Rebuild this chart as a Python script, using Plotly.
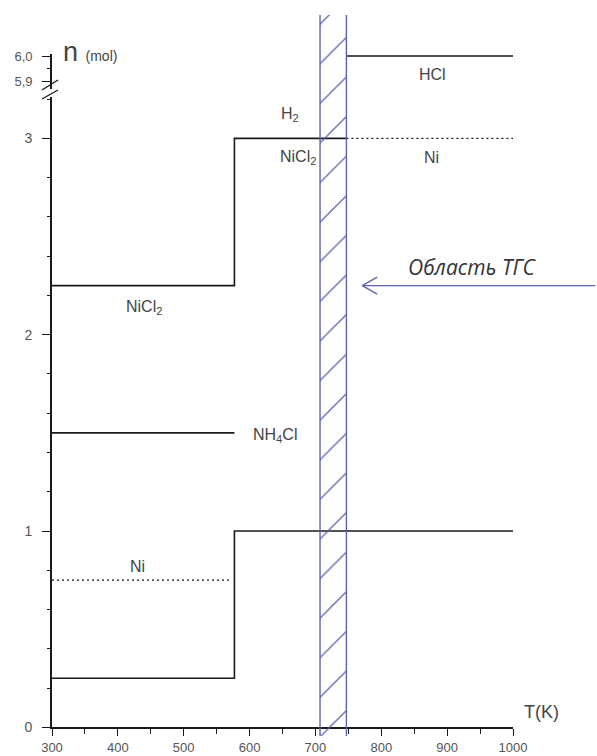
import plotly.graph_objects as go

# ---------------- data ----------------
T_min, T_max = 300, 1000
TGC_region = [707, 747]  # "Область ТГС" band

nicl2_T = [300, 577, 577, 747]
nicl2_n = [2.25, 2.25, 3.0, 3.0]
ni_high_T = [747, 1000]
ni_high_n = [3.0, 3.0]
hcl_T = [747, 1000]
hcl_n = [6.0, 6.0]
nh4cl_T = [300, 577]
nh4cl_n = [1.5, 1.5]
n2_T = [300, 577, 577, 1000]
n2_n = [0.25, 0.25, 1.0, 1.0]
ni_low_T = [300, 569]
ni_low_n = [0.75, 0.75]

arrow_target = [771, 2.25]   # (T, n) where the arrow points

x_ticks = [300, 400, 500, 600, 700, 800, 900, 1000]
y_ticks = [0, 1, 2, 3]
y2_ticks = [5.9, 6.0]
y2_ticktext = ["5,9", "6,0"]

# ---------------- layout constants ----------------
W, H = 597, 756
ML, MR, MT, MB = 52, 84, 15, 20
PH = H - MT - MB


def py2paper(py):
    return (H - MB - py) / PH


def px2paper(px):
    return (px - ML) / (W - ML - MR)


LINE = "#1a1a1a"
HATCH = "#5f62ad"
TXT = "#444444"
FONT = "Liberation Sans, Arial, sans-serif"

fig = go.Figure()

# hatched band (full height, own axis y3)
fig.add_trace(go.Bar(
    x=[(TGC_region[0] + TGC_region[1]) / 2], y=[1], base=[0],
    width=[TGC_region[1] - TGC_region[0]],
    xaxis="x", yaxis="y3",
    marker=dict(color="rgba(0,0,0,0)", line=dict(width=0),
                pattern=dict(shape="/", fgcolor=HATCH, bgcolor="rgba(0,0,0,0)",
                             size=28, solidity=0.045, fgopacity=1)),
    showlegend=False, hoverinfo="skip"))
fig.add_trace(go.Scatter(
    x=[TGC_region[0], TGC_region[0], None, TGC_region[1], TGC_region[1]],
    y=[0, 1, None, 0, 1], xaxis="x", yaxis="y3", mode="lines",
    line=dict(color=HATCH, width=1.4), showlegend=False, hoverinfo="skip"))


def solid(xs, ys, axis="y"):
    fig.add_trace(go.Scatter(x=xs, y=ys, xaxis="x", yaxis=axis, mode="lines",
                             line=dict(color=LINE, width=1.6), showlegend=False))


def dotted(xs, ys, axis="y"):
    fig.add_trace(go.Scatter(x=xs, y=ys, xaxis="x", yaxis=axis, mode="lines",
                             line=dict(color=LINE, width=1.4, dash="2px,3px"),
                             showlegend=False))


solid(nicl2_T, nicl2_n)
dotted(ni_high_T, ni_high_n)
solid(hcl_T, hcl_n, "y2")
solid(nh4cl_T, nh4cl_n)
solid(n2_T, n2_n)
dotted(ni_low_T, ni_low_n)

tickfont = dict(family=FONT, size=14, color="#555555")

fig.update_layout(
    width=W, height=H, margin=dict(l=ML, r=MR, t=MT, b=MB, autoexpand=False),
    paper_bgcolor="white", plot_bgcolor="rgba(0,0,0,0)",
    showlegend=False, barmode="overlay",
    xaxis=dict(range=[T_min, T_max], anchor="y", tickvals=x_ticks,
               automargin=False,
               ticks="outside", ticklen=7, tickwidth=1.3, tickcolor=LINE,
               showline=True, linecolor=LINE, linewidth=1.6, showgrid=False,
               zeroline=False, tickfont=dict(family=FONT, size=13, color="#555555"),
               ticklabelstandoff=0,
               minor=dict(dtick=50, ticks="outside", ticklen=5, tickwidth=1.3,
                          tickcolor=LINE, showgrid=False)),
    yaxis=dict(domain=[py2paper(727.3), py2paper(97)], range=[0, 3.211],
               automargin=False,
               anchor="x", tickvals=y_ticks, ticks="outside", ticklen=8,
               tickwidth=1.3, tickcolor=LINE, showline=True, linecolor=LINE,
               linewidth=1.6, showgrid=False, zeroline=False, tickfont=tickfont,
               ticklabelstandoff=7,
               minor=dict(dtick=0.2, ticks="outside", ticklen=3, tickwidth=1.3,
                          tickcolor=LINE, showgrid=False)),
    yaxis2=dict(domain=[py2paper(89), py2paper(54)], range=[5.868, 6.008],
                automargin=False,
                anchor="x", tickvals=y2_ticks, ticktext=y2_ticktext,
                ticks="outside", ticklen=8, tickwidth=1.3, tickcolor=LINE,
                showline=True, linecolor=LINE, linewidth=1.6, showgrid=False,
                zeroline=False, ticklabelstandoff=7,
                tickfont=dict(family=FONT, size=13, color="#555555"),
                minor=dict(dtick=0.05, ticks="outside", ticklen=3, tickwidth=1.3,
                           tickcolor=LINE, showgrid=False)),
    yaxis3=dict(domain=[0, 1], range=[0, 1], anchor="x", visible=False,
                automargin=False, showgrid=False, zeroline=False),
)

# axis break marks
for y0, y1 in [(90, 80), (99, 90)]:
    fig.add_shape(type="line", xref="paper", yref="paper",
                  x0=px2paper(42), x1=px2paper(58), y0=py2paper(y0), y1=py2paper(y1),
                  line=dict(color=LINE, width=1.3))


def label(text, x, y, yref="y", size=16):
    fig.add_annotation(text=text, x=x, y=y, xref="x", yref=yref, showarrow=False,
                       font=dict(family=FONT, size=size, color=TXT))


label("HCl", 877, 5.924, "y2")
label("H<sub>2</sub>", 661, 3.12)
label("NiCl<sub>2</sub>", 674, 2.905)
label("Ni", 876, 2.905)
label("NiCl<sub>2</sub>", 439, 2.14)
label("NH<sub>4</sub>Cl", 639, 1.484)
label("N<sub>2</sub>", 1024, 0.985)
label("Ni", 430, 0.82)

# axis titles
fig.add_annotation(text="n <span style='font-size:14px'>(mol)</span>",
                   xref="paper", yref="paper", x=px2paper(61), y=py2paper(52),
                   xanchor="left", yanchor="middle", showarrow=False,
                   font=dict(family=FONT, size=27, color=TXT))
fig.add_annotation(text="T(K)", xref="paper", yref="paper", x=px2paper(522),
                   y=py2paper(712), xanchor="left", yanchor="middle",
                   showarrow=False, font=dict(family=FONT, size=18, color=TXT))

# arrow pointing at the TGC region: shaft (annotation, not clipped) + open chevron head
ax_, ay_ = arrow_target
fig.add_annotation(text="", x=ax_, y=ay_, xref="x", yref="y", ax=240, ay=0,
                   axref="pixel", ayref="pixel", showarrow=True, arrowhead=0,
                   arrowwidth=1.3, arrowcolor=HATCH, standoff=0, startstandoff=0)
for dy in (8.5, -8.5):
    fig.add_shape(type="line", xref="x", yref="y", xsizemode="pixel",
                  ysizemode="pixel", xanchor=ax_, yanchor=ay_,
                  x0=0, x1=15, y0=0, y1=dy, line=dict(color=HATCH, width=1.3))
fig.add_annotation(text="Область ТГС", x=937, y=2.345, xref="x", yref="y",
                   showarrow=False,
                   font=dict(family="Open Sans, Noto Sans, sans-serif", size=21,
                             color="#333333", style="italic"))

fig.write_html("out.html")
